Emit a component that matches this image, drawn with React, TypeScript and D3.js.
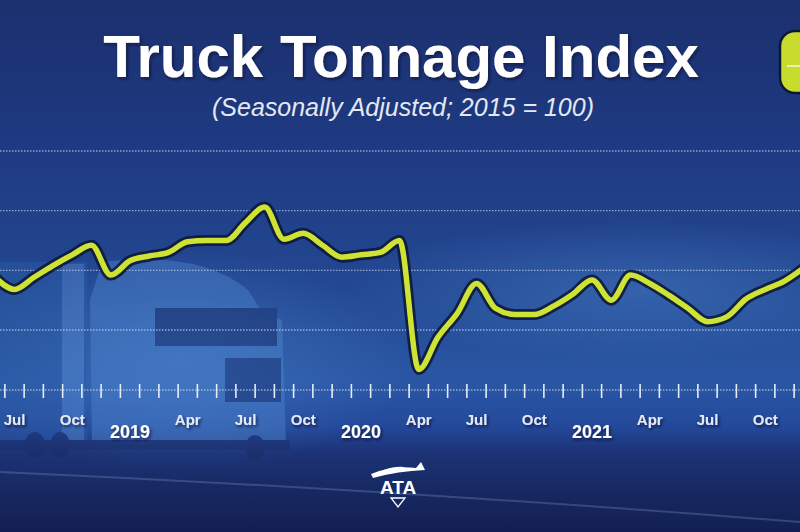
import React, { useEffect, useRef } from "react";
import * as d3 from "d3";

// monthly index values, Jun 2018 .. Dec 2021 (seasonally adjusted, 2015 = 100)
const startMonth = "2018-06";
const tonnage = [
  109.4, 108.4, 109.4, 110.4, 111.3, 112.1, 109.6,
  110.8, 111.2, 111.5, 112.4, 112.5, 112.5, 114.0, 115.3, 112.6, 113.1, 112.1, 111.1,
  111.3, 111.5, 112.5, 101.7, 104.4, 106.4, 108.9, 106.8, 106.3, 106.3, 107.0, 108.0,
  109.2, 107.5, 109.6, 108.9, 107.9, 106.8, 105.7, 106.1, 107.6, 108.4, 109.1, 110.2,
];
const gridValues = [105, 110, 115, 120];
const quarterLabels = ["Jul", "Oct", "2019", "Apr", "Jul", "Oct", "2020", "Apr", "Jul", "Oct", "2021", "Apr", "Jul", "Oct", "2022"];
const firstLabelIndex = 1; // Jul 2018

const W = 800;
const H = 532;

const TruckTonnage: React.FC = () => {
  const svgRef = useRef<SVGSVGElement | null>(null);

  useEffect(() => {
    document.body.style.margin = "0";
    if (!svgRef.current) return;
    const svg = d3.select(svgRef.current);
    svg.selectAll("*").remove();

    const font = "'Liberation Sans', Arial, Helvetica, sans-serif";
    const parse = d3.timeParse("%Y-%m");
    const start = parse(startMonth)!;
    const dates = tonnage.map((_, i) => d3.timeMonth.offset(start, i));

    // month index -> pixel (index 1 = Jul 2018 centre)
    const x = d3.scaleLinear().domain([1, 41]).range([14.5, 784.5]);
    const y = d3.scaleLinear().domain([105, 120]).range([330, 151]);

    const defs = svg.append("defs");
    const bg = defs.append("linearGradient").attr("id", "bg").attr("x1", 0).attr("x2", 0).attr("y1", 0).attr("y2", 1);
    [
      [0, "#1b306e"], [0.3, "#1f3b84"], [0.55, "#234892"], [0.72, "#2a57a4"],
      [0.8, "#24499b"], [0.85, "#1c3376"], [0.92, "#172962"], [1, "#131f52"],
    ].forEach(([o, c]) => bg.append("stop").attr("offset", o as number).attr("stop-color", c as string));

    const glow = defs.append("radialGradient").attr("id", "glow");
    glow.append("stop").attr("offset", 0).attr("stop-color", "#4b82cc").attr("stop-opacity", 0.45);
    glow.append("stop").attr("offset", 1).attr("stop-color", "#4b82cc").attr("stop-opacity", 0);

    const shadow = defs.append("filter").attr("id", "shadow").attr("x", "-10%").attr("y", "-20%").attr("width", "120%").attr("height", "140%");
    shadow.append("feDropShadow").attr("dx", 1.5).attr("dy", 2).attr("stdDeviation", 1.5).attr("flood-color", "#0a1230").attr("flood-opacity", 0.7);

    svg.append("rect").attr("width", W).attr("height", H).attr("fill", "url(#bg)");
    svg.append("ellipse").attr("cx", 640).attr("cy", 290).attr("rx", 300).attr("ry", 70).attr("fill", "url(#glow)");
    svg.append("ellipse").attr("cx", 180).attr("cy", 360).attr("rx", 230).attr("ry", 110).attr("fill", "url(#glow)");

    // rough truck silhouette behind the chart
    const truck = svg.append("g").attr("opacity", 0.42);
    truck.append("rect").attr("x", -5).attr("y", 262).attr("width", 92).attr("height", 180).attr("fill", "#2d5ea9");
    truck.append("rect").attr("x", 62).attr("y", 264).attr("width", 22).attr("height", 180).attr("fill", "#5a8fd6");
    truck.append("path")
      .attr("d", "M90 300 L102 262 Q200 250 248 290 L262 312 L282 320 L286 445 L92 445 Z")
      .attr("fill", "#5088d2");
    truck.append("rect").attr("x", 155).attr("y", 308).attr("width", 122).attr("height", 38).attr("fill", "#182b66");
    truck.append("rect").attr("x", 225).attr("y", 358).attr("width", 56).attr("height", 44).attr("fill", "#1b316d");
    truck.append("rect").attr("x", 0).attr("y", 440).attr("width", 290).attr("height", 10).attr("fill", "#1a2c62");
    [[35, 445], [60, 445], [255, 448]].forEach(([cx, cy]) =>
      truck.append("ellipse").attr("cx", cx).attr("cy", cy).attr("rx", 10).attr("ry", 13).attr("fill", "#1a2a60"));

    // road streak
    svg.append("path").attr("d", "M0 472 Q400 490 800 522").attr("fill", "none")
      .attr("stroke", "#7d9ad0").attr("stroke-opacity", 0.3).attr("stroke-width", 2);

    // gridlines
    svg.append("g").selectAll("line").data(gridValues).enter().append("line")
      .attr("x1", 0).attr("x2", W)
      .attr("y1", (d) => y(d)).attr("y2", (d) => y(d))
      .attr("stroke", "#d2def4").attr("stroke-opacity", 0.65)
      .attr("stroke-width", 1.4).attr("stroke-dasharray", "1.5 1.5");

    // x axis: month boundaries
    const axisY = 390;
    svg.append("line").attr("x1", 0).attr("x2", W).attr("y1", axisY).attr("y2", axisY)
      .attr("stroke", "#d2def4").attr("stroke-opacity", 0.65).attr("stroke-width", 1.4).attr("stroke-dasharray", "1.5 1.5");
    svg.append("g").selectAll("line").data(d3.range(0, dates.length)).enter().append("line")
      .attr("x1", (i) => x(i + 0.5)).attr("x2", (i) => x(i + 0.5))
      .attr("y1", axisY - 6).attr("y2", axisY + 8)
      .attr("stroke", "#e6edf9").attr("stroke-width", 1.6);

    const labels = svg.append("g").attr("font-family", font).attr("text-anchor", "middle").attr("filter", "url(#shadow)");
    quarterLabels.forEach((t, k) => {
      const isYear = /^\d{4}$/.test(t);
      labels.append("text")
        .attr("x", x(firstLabelIndex + k * 3))
        .attr("y", isYear ? 438 : 425)
        .attr("font-size", isYear ? 18 : 15)
        .attr("font-weight", "bold")
        .attr("fill", isYear ? "#ffffff" : "#e3e9f5")
        .text(t);
    });

    // the index line
    const line = d3.line<number>()
      .x((_, i) => x(i))
      .y((d) => y(d))
      .curve(d3.curveMonotoneX);
    svg.append("path").datum(tonnage).attr("d", line)
      .attr("fill", "none").attr("stroke", "#0d1836").attr("stroke-opacity", 0.85)
      .attr("stroke-width", 11).attr("stroke-linejoin", "round");
    svg.append("path").datum(tonnage).attr("d", line)
      .attr("fill", "none").attr("stroke", "#cfe334")
      .attr("stroke-width", 5.5).attr("stroke-linejoin", "round");

    // titles
    svg.append("text").attr("x", 401).attr("y", 77).attr("text-anchor", "middle")
      .attr("font-family", font).attr("font-weight", "bold").attr("font-size", 60)
      .attr("fill", "#ffffff").attr("filter", "url(#shadow)")
      .text("Truck Tonnage Index");
    svg.append("text").attr("x", 403).attr("y", 116).attr("text-anchor", "middle")
      .attr("font-family", font).attr("font-style", "italic").attr("font-size", 25)
      .attr("fill", "#e4e8f2")
      .text("(Seasonally Adjusted; 2015 = 100)");

    // legend badge cut off at the right edge
    svg.append("rect").attr("x", 780).attr("y", 31).attr("width", 70).attr("height", 62).attr("rx", 15)
      .attr("fill", "#c8dc2e").attr("stroke", "#0d1836").attr("stroke-width", 2.5);
    svg.append("line").attr("x1", 787).attr("x2", 800).attr("y1", 66).attr("y2", 66)
      .attr("stroke", "#f4f8e0").attr("stroke-width", 1.5);

    // ATA logo
    const logo = svg.append("g").attr("fill", "#ffffff");
    logo.append("path").attr("d", "M371 474 Q392 465 416 468 L421 462 L425 470 Q398 471 373 478 Z");
    logo.append("path").attr("d", "M384 470 Q395 466 404 467 L402 470 Q393 470 386 472 Z");
    logo.append("text").attr("x", 398).attr("y", 494).attr("text-anchor", "middle")
      .attr("font-family", font).attr("font-weight", "bold").attr("font-size", 19).text("ATA");
    logo.append("path").attr("d", "M391 498 L405 498 L398 507 Z").attr("fill", "none")
      .attr("stroke", "#ffffff").attr("stroke-width", 1.3);
  }, []);

  return <svg ref={svgRef} width={W} height={H} style={{ display: "block" }}></svg>;
};

export default function App() {
  return <TruckTonnage />;
}
